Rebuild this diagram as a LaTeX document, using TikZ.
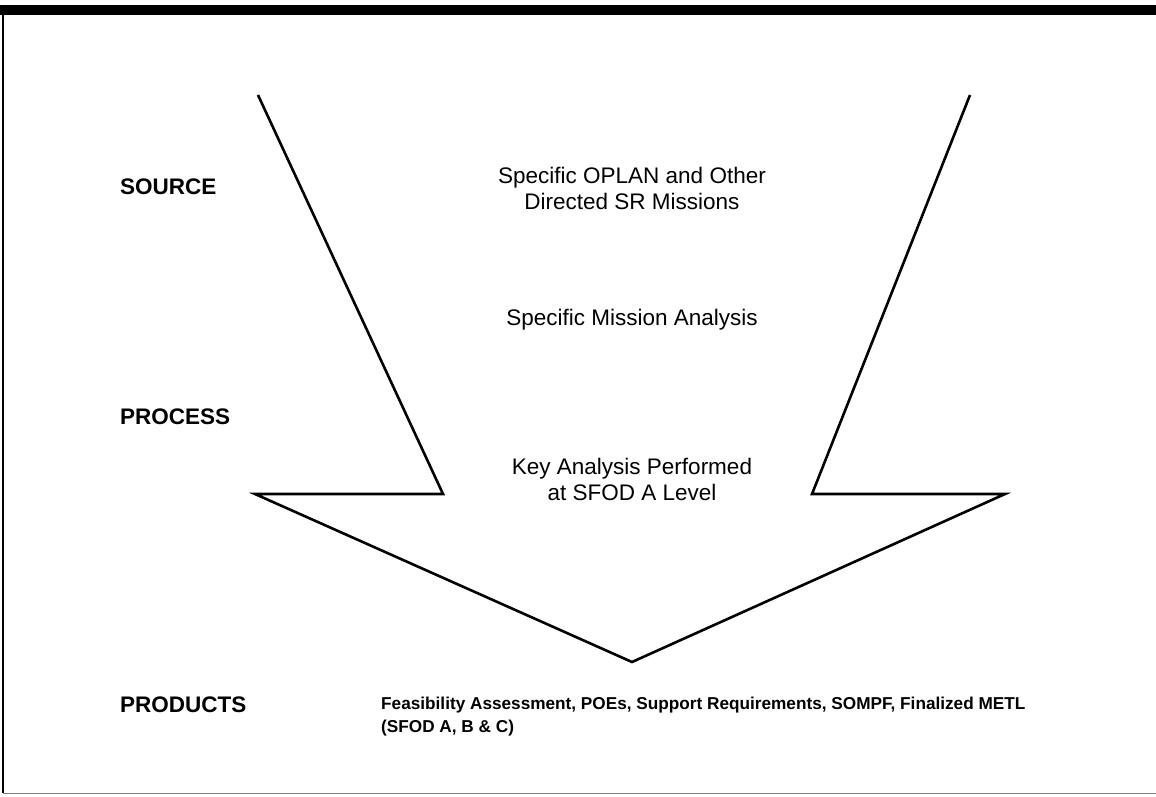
\documentclass[tikz,border=0pt]{standalone}
\usepackage{fontspec}
\setmainfont{Liberation Sans}
\begin{document}
\begin{tikzpicture}[x=1pt,y=-1pt,
  lbl/.style={font=\fontsize{22.5}{26}\selectfont\bfseries, anchor=west, inner sep=0pt},
  ctr/.style={font=\fontsize{22.5}{26}\selectfont, align=center, inner sep=0pt},
  prod/.style={font=\fontsize{17.2}{23}\selectfont\bfseries, align=left, anchor=north west, inner sep=0pt},
  outline/.style={line width=2.6pt, line join=miter}]
\useasboundingbox (0,0) rectangle (1156,796);
\fill[white] (0,0) rectangle (1156,796);
% frame
\fill[black] (0,5) rectangle (1156,15);
\draw[line width=1.5pt] (3,15) -- (3,793);
\draw[gray, line width=1pt] (3,793) -- (1156,793);
% arrow
\coordinate (tl) at (258,95);
\coordinate (il) at (443,494);
\coordinate (ol) at (255,494);
\coordinate (tip) at (632,662);
\coordinate (or) at (1005,494);
\coordinate (ir) at (812,494);
\coordinate (tr) at (970,95);
\draw[outline] (tl) -- (il) -- (ol) -- (tip) -- (or) -- (ir) -- (tr);
% labels
\node[lbl] (src) at (120,187) {SOURCE};
\node[lbl] (prc) at (120,417) {PROCESS};
\node[lbl] (prd) at (120,705) {PRODUCTS};
\node[ctr] (t1) at (632,188) {Specific OPLAN and Other\\Directed SR Missions};
\node[ctr] (t2) at (632,320) {Specific Mission Analysis};
\node[ctr] (t3) at (632,479) {Key Analysis Performed\\at SFOD A Level};
\node[prod] (t4) at (381,697) {Feasibility Assessment, POEs, Support Requirements, SOMPF, Finalized METL\\(SFOD A, B \& C)};
\end{tikzpicture}
\end{document}
